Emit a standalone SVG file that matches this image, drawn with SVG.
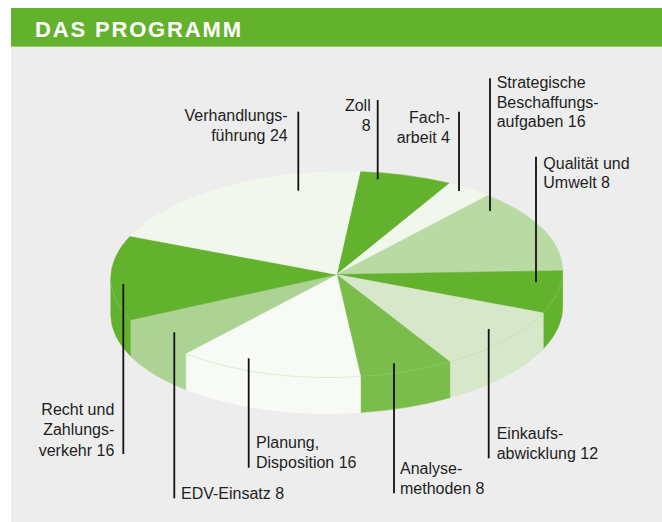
<svg xmlns="http://www.w3.org/2000/svg" width="662" height="522" viewBox="0 0 662 522">
<style>
.lbl{font-family:"Liberation Sans",Arial,sans-serif;font-size:16px;fill:#1e1e1e}
.end{text-anchor:end}
.ttl{font-family:"Liberation Sans",Arial,sans-serif;font-size:22px;font-weight:bold;fill:#ffffff}
.ldr{stroke:#111111;stroke-width:1.8;fill:none}
.c1{fill:#63B22E;stroke:#63B22E}
.c2{fill:#F1F7EC;stroke:#F1F7EC}
.c3{fill:#B9DBA3;stroke:#B9DBA3}
.c4{fill:#D6E8C9;stroke:#D6E8C9}
.c5{fill:#7ABD4A;stroke:#7ABD4A}
.c6{fill:#F8FBF5;stroke:#F8FBF5}
.c7{fill:#ADD394;stroke:#ADD394}
path.s{stroke-width:0.5;stroke-linejoin:round}
</style>
<rect x="0" y="0" width="662" height="522" fill="#ffffff"/>
<rect x="11" y="46.7" width="651" height="475.3" fill="#EDEDED"/>
<g id="header">
<rect x="11" y="8" width="651" height="38.7" fill="#63B22E"/>
<text class="ttl" x="35" y="36.7" textLength="206" lengthAdjust="spacing">DAS PROGRAMM</text>
</g>
<g id="pie" transform="translate(336.75,274.5) rotate(-1.2)">
<g id="slice-qualitaet-side"><path class="s c1" d="M226,0 A226,103 0 0 1 205.65,42.71 L204.9,78.71 A226,103 0 0 0 225.25,36 Z"/></g>
<g id="slice-einkauf-side"><path class="s c4" d="M205.65,42.71 A226,103 0 0 1 111.29,89.65 L110.54,125.65 A226,103 0 0 0 204.9,78.71 Z"/></g>
<g id="slice-analyse-side"><path class="s c5" d="M111.29,89.65 A226,103 0 0 1 21.66,102.53 L20.91,138.53 A226,103 0 0 0 110.54,125.65 Z"/></g>
<g id="slice-planung-side"><path class="s c6" d="M21.66,102.53 A226,103 0 0 1 -152.68,75.94 L-153.43,111.94 A226,103 0 0 0 20.91,138.53 Z"/></g>
<g id="slice-edv-side"><path class="s c7" d="M-152.68,75.94 A226,103 0 0 1 -207.26,41.07 L-208.01,77.07 A226,103 0 0 0 -153.43,111.94 Z"/></g>
<g id="slice-recht-side"><path class="s c1" d="M-207.26,41.07 A226,103 0 0 1 -226,0 L-226.75,36 A226,103 0 0 0 -208.01,77.07 Z"/></g>
<g id="slice-zoll"><path class="s c1" d="M0,0 L25.58,-102.34 A226,103 0 0 1 114.7,-88.75 Z"/></g>
<g id="slice-facharbeit"><path class="s c2" d="M0,0 L114.7,-88.75 A226,103 0 0 1 152.68,-75.94 Z"/></g>
<g id="slice-strategische"><path class="s c3" d="M0,0 L152.68,-75.94 A226,103 0 0 1 225.99,0.9 Z"/></g>
<g id="slice-qualitaet"><path class="s c1" d="M0,0 L225.99,0.9 A226,103 0 0 1 205.65,42.71 Z"/></g>
<g id="slice-einkauf"><path class="s c4" d="M0,0 L205.65,42.71 A226,103 0 0 1 111.29,89.65 Z"/></g>
<g id="slice-analyse"><path class="s c5" d="M0,0 L111.29,89.65 A226,103 0 0 1 21.66,102.53 Z"/></g>
<g id="slice-planung"><path class="s c6" d="M0,0 L21.66,102.53 A226,103 0 0 1 -152.68,75.94 Z"/></g>
<g id="slice-edv"><path class="s c7" d="M0,0 L-152.68,75.94 A226,103 0 0 1 -207.26,41.07 Z"/></g>
<g id="slice-recht"><path class="s c1" d="M0,0 L-207.26,41.07 A226,103 0 0 1 -205.65,-42.71 Z"/></g>
<g id="slice-verhandlung"><path class="s c2" d="M0,0 L-205.65,-42.71 A226,103 0 0 1 25.58,-102.34 Z"/></g>
<path d="M226,0 A226,103 0 0 1 -226,0" fill="none" stroke="#9CCC7C" stroke-opacity="0.4" stroke-width="0.7"/>
</g>
<g id="connectors">
<line class="ldr" x1="298.3" y1="111.7" x2="298.3" y2="190.7"/>
<line class="ldr" x1="377.7" y1="100" x2="377.7" y2="179.3"/>
<line class="ldr" x1="459" y1="111.7" x2="459" y2="191"/>
<line class="ldr" x1="490" y1="78.3" x2="490" y2="211"/>
<line class="ldr" x1="536" y1="156.7" x2="536" y2="282.3"/>
<line class="ldr" x1="123.3" y1="284" x2="123.3" y2="454"/>
<line class="ldr" x1="174.3" y1="332.3" x2="174.3" y2="498.3"/>
<line class="ldr" x1="248.7" y1="358.3" x2="248.7" y2="467.7"/>
<line class="ldr" x1="394" y1="363.3" x2="394" y2="493.3"/>
<line class="ldr" x1="488.7" y1="329" x2="488.7" y2="458.3"/>
</g>
<g id="label-verhandlung"><text class="lbl end" x="287.7" y="121">Verhandlungs-</text><text class="lbl end" x="287.7" y="141">führung 24</text></g>
<g id="label-zoll"><text class="lbl end" x="370.7" y="110.7">Zoll</text><text class="lbl end" x="370.7" y="130.5">8</text></g>
<g id="label-facharbeit"><text class="lbl end" x="450" y="123.3">Fach-</text><text class="lbl end" x="450" y="143">arbeit 4</text></g>
<g id="label-strategische"><text class="lbl" x="496.7" y="88.3">Strategische</text><text class="lbl" x="496.7" y="107.7">Beschaffungs-</text><text class="lbl" x="496.7" y="127">aufgaben 16</text></g>
<g id="label-qualitaet"><text class="lbl" x="543.3" y="169">Qualität und</text><text class="lbl" x="543.3" y="188.3">Umwelt 8</text></g>
<g id="label-recht"><text class="lbl end" x="114.3" y="415">Recht und</text><text class="lbl end" x="114.3" y="435.3">Zahlungs-</text><text class="lbl end" x="114.3" y="455.5">verkehr 16</text></g>
<g id="label-edv"><text class="lbl" x="181" y="499.3">EDV-Einsatz 8</text></g>
<g id="label-planung"><text class="lbl" x="256" y="448.3">Planung,</text><text class="lbl" x="256" y="468.3">Disposition 16</text></g>
<g id="label-analyse"><text class="lbl" x="400" y="474.3">Analyse-</text><text class="lbl" x="400" y="493.7">methoden 8</text></g>
<g id="label-einkauf"><text class="lbl" x="496.7" y="439.3">Einkaufs-</text><text class="lbl" x="496.7" y="459">abwicklung 12</text></g>
</svg>
